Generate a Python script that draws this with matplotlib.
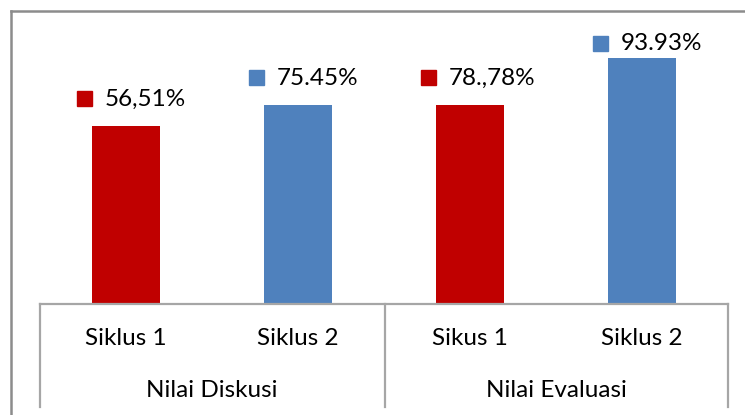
import matplotlib
matplotlib.use("Agg")
import matplotlib.pyplot as plt
from matplotlib.lines import Line2D
from matplotlib.transforms import offset_copy, blended_transform_factory

# ---- data ----
categories = ["Siklus 1", "Siklus 2", "Sikus 1", "Siklus 2"]
groups = ["Nilai Diskusi", "Nilai Evaluasi"]
values = [67.9, 75.9, 75.9, 93.9]          # bar heights
value_labels = ["56,51%", "75.45%", "78.,78%", "93.93%"]
colors = ["#C00000", "#4F81BD", "#C00000", "#4F81BD"]

W, H = 745, 415
fig = plt.figure(figsize=(W / 100, H / 100), dpi=100)
plt.rcParams['font.family'] = ['Lato', 'DejaVu Sans']

# axes placement in pixels
ax_left, ax_right, ax_bottom, ax_top = 40, 728, 304, 42
ax = fig.add_axes([ax_left / W, (H - ax_bottom) / H,
                   (ax_right - ax_left) / W, (ax_bottom - ax_top) / H])
x = list(range(len(values)))
ax.bar(x, values, width=0.4, color=colors, zorder=2)
ax.set_xlim(-0.5, len(values) - 0.5)
ax.set_ylim(0, 100)
ax.axis('off')

ax_h = ax_bottom - ax_top
fs = 17.5
tr = blended_transform_factory(ax.transData, ax.transAxes)
# value labels with legend key squares
for xi, v, lab, c in zip(x, values, value_labels, colors):
    yfrac = min(v / 100 + 27 / ax_h, (ax_bottom - 44) / ax_h)
    t_text = offset_copy(tr, fig=fig, x=-21, y=0, units='dots')
    ax.text(xi, yfrac, lab, transform=t_text, ha='left', va='center',
            fontsize=fs, color='#000000', clip_on=False)
    ax.plot([xi], [yfrac], marker='s', markersize=15 * 72 / 100, color=c,
            transform=offset_copy(tr, fig=fig, x=-42, y=1, units='dots'),
            clip_on=False, linestyle='none')

# category axis lines
gray = '#A6A6A6'
lw = 1.6
def fy(py):
    return (H - py) / H
def fx(px):
    return px / W
fig.add_artist(Line2D([fx(ax_left), fx(ax_right)], [fy(ax_bottom), fy(ax_bottom)],
                      color=gray, lw=lw))
for px in (ax_left, (ax_left + ax_right) / 2 + 1, ax_right):
    fig.add_artist(Line2D([fx(px), fx(px)], [fy(ax_bottom), fy(407)], color=gray, lw=lw))

# category labels
tr_lab = blended_transform_factory(ax.transData, fig.transFigure)
for xi, cat in zip(x, categories):
    ax.text(xi, fy(338), cat, transform=tr_lab, ha='center', va='center',
            fontsize=fs, color='#000000', clip_on=False)
for gi, g in enumerate(groups):
    ax.text(2 * gi + 0.5, fy(390), g, transform=tr_lab, ha='center', va='center',
            fontsize=fs, color='#000000', clip_on=False)

# outer chart border (partially cropped)
bc = '#8C8C8C'
fig.add_artist(Line2D([fx(11), fx(11)], [fy(11), 0], color=bc, lw=1.8))
fig.add_artist(Line2D([fx(11), 1], [fy(11), fy(11)], color=bc, lw=1.8))

fig.savefig("out.png", dpi=100)
